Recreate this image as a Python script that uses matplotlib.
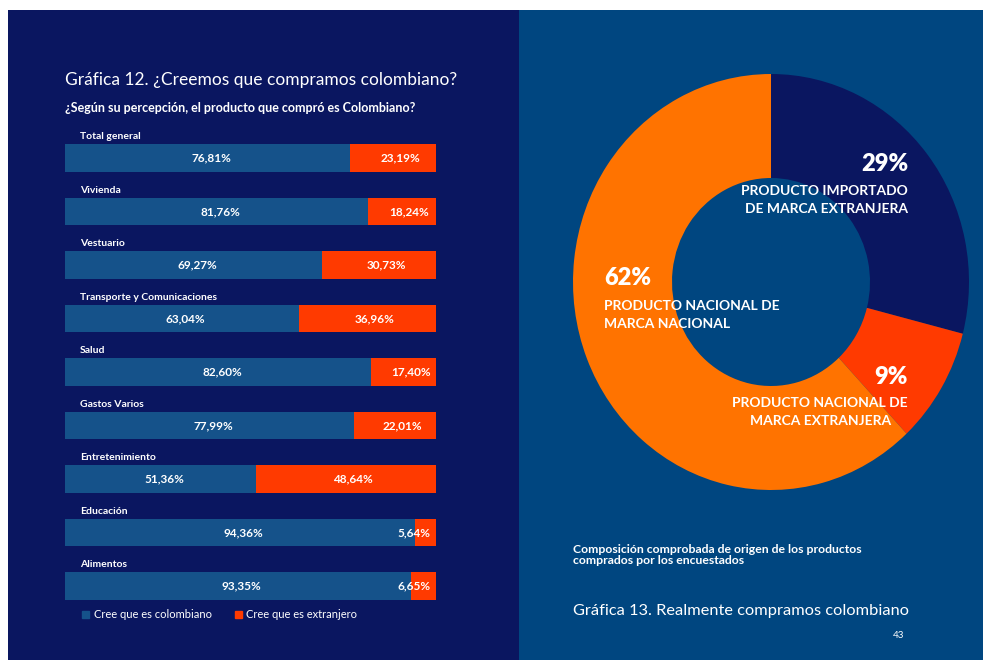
import matplotlib
matplotlib.use("Agg")
import matplotlib.pyplot as plt
from matplotlib.patches import Rectangle, Patch

plt.rcParams['font.family'] = ['Lato', 'DejaVu Sans']

# Gráfica 12 data
categories = ['Total general', 'Vivienda', 'Vestuario', 'Transporte y Comunicaciones',
              'Salud', 'Gastos Varios', 'Entretenimiento', 'Educación', 'Alimentos']
colombiano = [76.81, 81.76, 69.27, 63.04, 82.60, 77.99, 51.36, 94.36, 93.35]
extranjero = [23.19, 18.24, 30.73, 36.96, 17.40, 22.01, 48.64, 5.64, 6.65]
series_names = ['Cree que es colombiano', 'Cree que es extranjero']

# Gráfica 13 data
donut_values = [29, 9, 62]
donut_pct = ['29%', '9%', '62%']
donut_labels = ['PRODUCTO IMPORTADO\nDE MARCA EXTRANJERA',
                'PRODUCTO NACIONAL DE\nMARCA EXTRANJERA',
                'PRODUCTO NACIONAL DE\nMARCA NACIONAL']

NAVY = '#0a1660'
PANEL2 = '#004680'
BLUE = '#15528a'
RED = '#ff3a00'
ORANGE = '#ff7300'

W, H = 983, 660
fig = plt.figure(figsize=(W / 100, H / 100), dpi=100, facecolor='white')


def fx(px):
    return px / W


def fy(py):
    return 1 - py / H


# background panels
fig.add_artist(Rectangle((fx(8), 0), fx(519 - 8), fy(10), transform=fig.transFigure,
                         facecolor=NAVY, edgecolor='none', zorder=0))
fig.add_artist(Rectangle((fx(519), 0), 1 - fx(519), fy(10), transform=fig.transFigure,
                         facecolor=PANEL2, edgecolor='none', zorder=0))

# ---- left: stacked bars ----
top_px, bot_px = 120, 605
ax = fig.add_axes([fx(65), fy(bot_px), fx(436 - 65), (bot_px - top_px) / H])
ax.set_facecolor('none')
n = len(categories)
idx = list(range(n))
bh = 0.505
ax.barh(idx, colombiano, height=bh, color=BLUE, edgecolor='none')
ax.barh(idx, extranjero, left=colombiano, height=bh, color=RED, edgecolor='none')
unit = 53.5
y0 = -(158 - top_px) / unit
ax.set_ylim(y0 + (bot_px - top_px) / unit, y0)
ax.set_xlim(0, 100)
ax.axis('off')


def pct(v):
    return f'{v:.2f}%'.replace('.', ',')


for i in idx:
    ax.text(4, i - 0.4, categories[i], color='white', fontsize=7.5, fontweight='bold',
            va='center', ha='left')
    c = colombiano[i]
    e = extranjero[i]
    ax.text(c / 2 + 1, i, pct(c), color='white', fontsize=8.5,
            fontweight='bold', va='center', ha='center')
    if e < 10:
        ax.text(98.5, i, pct(e), color='white', fontsize=8.5,
                fontweight='bold', va='center', ha='right')
    else:
        ax.text(c + e / 2 + 2, i, pct(e), color='white', fontsize=8.5,
                fontweight='bold', va='center', ha='center')

ax.legend(handles=[Patch(color=BLUE), Patch(color=RED)], labels=series_names,
          loc='upper left', bbox_to_anchor=(0.035, 0.0), ncol=2, frameon=False,
          handlelength=0.6, handleheight=0.6, handletextpad=0.4, columnspacing=2.1,
          fontsize=8, labelcolor='white', borderaxespad=0)

fig.text(fx(65), fy(80), 'Gráfica 12. ¿Creemos que compramos colombiano?', color='white',
         fontsize=12.5, va='center', ha='left')
fig.text(fx(65), fy(108), '¿Según su percepción, el producto que compró es Colombiano?',
         color='white', fontsize=9, fontweight='bold', va='center', ha='left')

# ---- right: donut ----
cx, cy, rx, ry = 771, 282, 198, 208
ax2 = fig.add_axes([fx(cx - rx), fy(cy + ry), 2 * rx / W, 2 * ry / H])
ax2.pie(donut_values, colors=[NAVY, RED, ORANGE], startangle=90, counterclock=False,
        wedgeprops=dict(width=0.5, edgecolor='none'), radius=1)
ax2.set_aspect('auto')
ax2.set_xlim(-1, 1)
ax2.set_ylim(-1, 1)
ax2.axis('off')

# labels for the donut
fig.text(fx(908), fy(164), donut_pct[0], color='white', fontsize=17, fontweight='heavy',
         ha='right', va='center')
fig.text(fx(908), fy(200), donut_labels[0], color='white', fontsize=10, fontweight='bold',
         ha='right', va='center', linespacing=1.6, multialignment='right')
fig.text(fx(908), fy(377), donut_pct[1], color='white', fontsize=17, fontweight='heavy',
         ha='right', va='center')
fig.text(fx(908), fy(412), donut_labels[1], color='white', fontsize=10, fontweight='bold',
         ha='right', va='center', linespacing=1.6, multialignment='center')
fig.text(fx(604), fy(278), donut_pct[2], color='white', fontsize=17, fontweight='heavy',
         ha='left', va='center')
fig.text(fx(604), fy(315), donut_labels[2], color='white', fontsize=10, fontweight='bold',
         ha='left', va='center', linespacing=1.6)

fig.text(fx(573), fy(555), 'Composición comprobada de origen de los productos\ncomprados por los encuestados',
         color='white', fontsize=8.8, fontweight='bold', ha='left', va='center', linespacing=1.05)
fig.text(fx(573), fy(611), 'Gráfica 13. Realmente compramos colombiano', color='white',
         fontsize=11.8, ha='left', va='center')
fig.text(fx(893), fy(636), '43', color='white', fontsize=7, ha='left', va='center')

fig.savefig('out.png', dpi=100, facecolor='white')
